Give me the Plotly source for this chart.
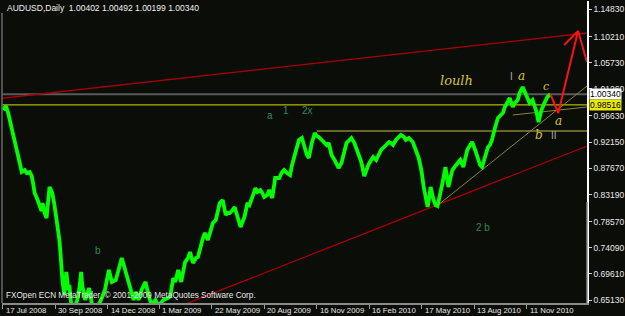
import plotly.graph_objects as go

# ---------------- data ----------------
bar_index = [3, 6, 8, 10, 13, 15, 17, 20, 22, 25, 27, 30, 32, 33, 35, 38, 40, 42, 43, 45, 47, 49, 50, 52, 53, 55, 57, 59, 60, 61,
             62, 63, 65, 67, 69, 70, 72, 75, 78, 80, 82, 83, 86, 90, 93, 97, 102, 106, 110, 113, 117, 120, 123, 125, 127, 130,
             132, 135, 137, 140, 143, 147, 150, 153, 157, 160, 165, 170, 172, 175, 177, 180, 183, 187, 190, 192, 195, 198, 200,
             202, 205, 207, 210, 213, 215, 218, 220, 222, 225, 228, 230, 232, 235, 237, 240, 243, 245, 247, 250, 252, 255, 258,
             260, 263, 265, 267, 270, 272, 275, 278, 280, 282, 285, 287, 290, 293, 295, 297, 300, 302, 305, 308, 310, 312, 315,
             318, 320, 322, 325, 327, 330, 332, 335, 338, 340, 342, 345, 348, 350, 353, 355, 358, 360, 362, 365, 368, 370, 372,
             375, 377, 380, 383, 385, 388, 390, 393, 395, 397, 400, 402, 405, 408, 410, 413, 415, 417, 420, 423, 425, 426, 428,
             430, 432, 434, 435, 438, 440, 442, 444, 447, 450, 452, 453, 455, 457, 460, 463, 465, 468, 470, 472, 475, 477, 480,
             483, 485, 487, 490, 493, 495, 497, 500, 503, 505, 508, 510, 512, 515, 518, 520, 523, 525, 528, 530, 532, 535, 538,
             540, 542, 544, 546, 547, 550, 553, 556]
close_price = [0.9765, 0.9833, 0.9730, 0.9576, 0.9371, 0.9217, 0.9081, 0.8858, 0.8704, 0.8738, 0.8687, 0.8704, 0.8636, 0.8550,
               0.8345, 0.8225, 0.8123, 0.8037, 0.8174, 0.8003, 0.7918, 0.8294, 0.8448, 0.8379, 0.8328, 0.8140, 0.7935, 0.7712,
               0.7541, 0.7336, 0.6994, 0.6858, 0.6601, 0.6994, 0.6687, 0.6772, 0.6430, 0.6345, 0.6516, 0.6687, 0.6994, 0.6772,
               0.6516, 0.6721, 0.6430, 0.6345, 0.6516, 0.6687, 0.7029, 0.6824, 0.6858, 0.7029, 0.7234, 0.7114, 0.6994, 0.6772,
               0.6687, 0.6516, 0.6652, 0.6516, 0.6687, 0.6824, 0.6601, 0.6430, 0.6516, 0.6413, 0.6516, 0.6550, 0.6584, 0.6892,
               0.6824, 0.7029, 0.6824, 0.7165, 0.7234, 0.7336, 0.7148, 0.7234, 0.7251, 0.7405, 0.7576, 0.7661, 0.7541, 0.7712,
               0.7832, 0.7883, 0.8020, 0.8174, 0.8225, 0.7969, 0.8003, 0.8003, 0.8054, 0.8106, 0.7935, 0.7764, 0.7849, 0.7935,
               0.8174, 0.8140, 0.8277, 0.8431, 0.8362, 0.8396, 0.8345, 0.8277, 0.8311, 0.8396, 0.8260, 0.8602, 0.8602, 0.8602,
               0.8704, 0.8738, 0.8687, 0.8653, 0.8824, 0.8961, 0.9115, 0.9252, 0.9286, 0.9081, 0.8995, 0.8944, 0.9200, 0.9371,
               0.9320, 0.9303, 0.9252, 0.9235, 0.9166, 0.9200, 0.8995, 0.8910, 0.8824, 0.8773, 0.8858, 0.9081, 0.9200, 0.9252,
               0.9286, 0.9200, 0.9115, 0.9029, 0.8875, 0.8636, 0.8738, 0.8824, 0.8910, 0.8961, 0.8910, 0.9029, 0.9081, 0.9132,
               0.9166, 0.9217, 0.9200, 0.9166, 0.9252, 0.9286, 0.9337, 0.9303, 0.9252, 0.9286, 0.9252, 0.9217, 0.9081, 0.8944,
               0.8790, 0.8704, 0.8448, 0.8277, 0.8106, 0.8311, 0.8448, 0.8225, 0.8140, 0.8123, 0.8260, 0.8516, 0.8790, 0.8602,
               0.8448, 0.8602, 0.8738, 0.8807, 0.8858, 0.8910, 0.8790, 0.8944, 0.9081, 0.9166, 0.9217, 0.9081, 0.8910, 0.8824,
               0.8790, 0.8961, 0.9132, 0.9166, 0.9252, 0.9457, 0.9628, 0.9662, 0.9713, 0.9816, 0.9884, 0.9970, 0.9816, 0.9884,
               0.9935, 1.0055, 1.0158, 1.0072, 0.9987, 0.9884, 0.9935, 0.9850, 0.9730, 0.9559, 0.9696, 0.9765, 0.9884, 0.9987,
               1.0034]

date_ticks = [3, 56, 109, 161, 214, 267, 320, 373, 426, 479, 532]
date_labels = ["17 Jul 2008", "30 Sep 2008", "14 Dec 2008", "1 Mar 2009", "22 May 2009", "20 Aug 2009",
               "16 Nov 2009", "16 Feb 2010", "17 May 2010", "13 Aug 2010", "11 Nov 2010"]
price_ticks = [1.14830, 1.10210, 1.05730, 1.01260, 0.96630, 0.92150, 0.87670, 0.83190, 0.78570, 0.74090, 0.69610, 0.65130]

bid_price = 1.00340
ohlc_header = [1.00402, 1.00492, 1.00199, 1.00340]
yellow_level = 0.98516
olive_level = 0.9405
olive_level_bars = [320, 593]
channel_top_bars = [2, 593]
channel_top_prices = [0.9965, 1.1081]
channel_bottom_bars = [185, 593]
channel_bottom_prices = [0.6430, 0.9149]
support_bars = [440, 593]
support_prices = [0.8106, 1.0175]
wedge_bars = [518, 593]
wedge_prices = [0.9679, 0.9816]
projection_bars = [556, 564, 584, 593]
projection_prices = [1.0034, 0.9713, 1.1115, 1.0585]
arrow_wing_bars = [570, 584]
arrow_wing_prices = [1.0876, 1.1115]

# ---------------- layout geometry ----------------
W, H = 625, 316
PL, PR, PT, PB = 2, 593, 1, 303
X_RANGE = [2, 593]
Y_RANGE = [0.64641, 1.16284]


def price_at(ypix):
    return Y_RANGE[1] - (ypix - PT) * (Y_RANGE[1] - Y_RANGE[0]) / (PB - PT)


def paper_y(ypix):
    return (PB - ypix) / (PB - PT)


BG = "#0b0d09"
FONT = "Liberation Sans"

fig = go.Figure()


def line(xs, ys, color, width, dash=None):
    fig.add_trace(go.Scatter(x=xs, y=ys, mode="lines", hoverinfo="skip", showlegend=False,
                             line=dict(color=color, width=width, dash=dash)))


# horizontal levels
line(X_RANGE, [bid_price, bid_price], "#5a5a5a", 2)
line(X_RANGE, [yellow_level, yellow_level], "#e0e000", 1)
line(olive_level_bars, [olive_level, olive_level], "#66662a", 2)
# trend lines
line(channel_top_bars, channel_top_prices, "#a80000", 1.3)
line(channel_bottom_bars, channel_bottom_prices, "#a80000", 1.3)
line(support_bars, support_prices, "#84863c", 1)
line(wedge_bars, wedge_prices, "#84863c", 1)

# price
fig.add_trace(go.Scatter(x=bar_index, y=close_price, mode="lines", hoverinfo="skip", showlegend=False,
                         line=dict(color="#00ff00", width=3.8)))

# projection arrow
line(projection_bars, projection_prices, "#ff1010", 2)
line(arrow_wing_bars, arrow_wing_prices, "#ff1010", 2)

ann = []
# header
ann.append(dict(text="AUDUSD,Daily  " + " ".join(f"{v:.5f}" for v in ohlc_header),
                xref="x", yref="paper", x=5, y=paper_y(8), xanchor="left", yanchor="middle",
                showarrow=False, font=dict(family=FONT, size=8.5, color="#f0f0f0")))
# copyright
ann.append(dict(text="FXOpen ECN MetaTrader, © 2001-2009 MetaQuotes Software Corp.",
                xref="x", yref="paper", x=4, y=paper_y(295), xanchor="left", yanchor="middle",
                showarrow=False, font=dict(family=FONT, size=8.2, color="#e8e8e8")))
# date labels
for t, lab in zip(date_ticks, date_labels):
    ann.append(dict(text=lab, xref="x", yref="paper", x=t, y=0, xanchor="left", yanchor="top",
                    xshift=1, yshift=-1, showarrow=False, font=dict(family=FONT, size=7.8, color="#e8e8e8")))
# price boxes on axis
ann.append(dict(text=f"{bid_price:.5f}", xref="paper", yref="y", x=1, y=bid_price, xanchor="left",
                yanchor="middle", xshift=2, showarrow=False, bgcolor="#ffffff", borderpad=0,
                font=dict(family=FONT, size=8.5, color="#000000")))
ann.append(dict(text=f"{yellow_level:.5f}", xref="paper", yref="y", x=1, y=yellow_level, xanchor="left",
                yanchor="middle", xshift=2, showarrow=False, bgcolor="#e8e800", borderpad=0,
                font=dict(family=FONT, size=8.5, color="#000000")))

# wave labels (green)
for txt, xp, yp in [("a", 273, 115), ("1", 289, 110), ("2x", 311, 110), ("b", 99, 250), ("2 b", 488, 227)]:
    ann.append(dict(text=txt, xref="x", yref="y", x=xp, y=price_at(yp), showarrow=False,
                    font=dict(family=FONT, size=10, color="#2f8a58")))
# gray roman numerals
for txt, xp, yp in [("I", 517, 76), ("II", 560, 135)]:
    ann.append(dict(text=txt, xref="x", yref="y", x=xp, y=price_at(yp), showarrow=False,
                    font=dict(family=FONT, size=10, color="#a8a8a8")))
# yellow handwriting
for txt, xp, yp, sz in [("loulh", 461, 80, 13), ("a", 527, 76, 12), ("c", 552, 86, 11), ("b", 545, 135, 12),
                        ("a", 564, 121, 12)]:
    ann.append(dict(text=f"<i>{txt}</i>", xref="x", yref="y", x=xp, y=price_at(yp), showarrow=False,
                    font=dict(family="DejaVu Serif", size=sz, color="#d8c428")))

shapes = [
    # left border
    dict(type="line", xref="paper", yref="paper", x0=0, x1=0, y0=0, y1=paper_y(13),
         line=dict(color="#6a6a6a", width=1.5)),
    # lower part of right axis is grey
    dict(type="line", xref="paper", yref="paper", x0=1, x1=1, y0=0, y1=paper_y(202),
         line=dict(color="#8a8a8a", width=1.5)),
]

fig.update_layout(
    width=W, height=H,
    margin=dict(l=PL, r=W - PR, t=PT, b=H - PB, pad=0),
    paper_bgcolor=BG, plot_bgcolor=BG,
    annotations=ann, shapes=shapes,
    xaxis=dict(range=X_RANGE, showgrid=False, zeroline=False, showticklabels=False,
               tickmode="array", tickvals=date_ticks, ticks="outside", ticklen=4, tickcolor="#9a9a9a",
               showline=True, linecolor="#8a8a8a", linewidth=1.5, fixedrange=True),
    yaxis=dict(range=Y_RANGE, side="right", showgrid=False, zeroline=False,
               tickmode="array", tickvals=price_ticks, ticktext=[f"{v:.5f}" for v in price_ticks],
               ticks="outside", ticklen=3, tickcolor="#d0d0d0",
               tickfont=dict(family=FONT, size=8.5, color="#e8e8e8"),
               showline=True, linecolor="#ffffff", linewidth=1.5, fixedrange=True),
    font=dict(family=FONT),
)

fig.write_html("out.html")
